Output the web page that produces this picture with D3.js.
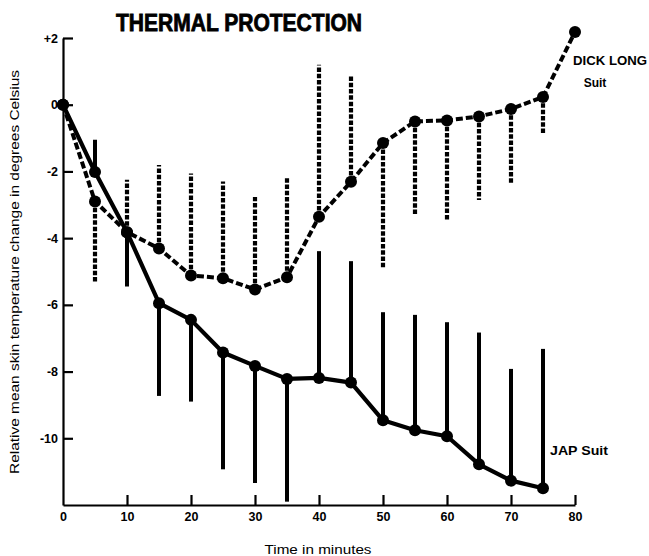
<!DOCTYPE html>
<html>
<head>
<meta charset="utf-8">
<script src="https://cdn.jsdelivr.net/npm/d3@7"></script>
<style>
  html, body { margin: 0; padding: 0; background: #fff; }
  svg { display: block; }
</style>
</head>
<body>
<svg id="chart" width="649" height="556"></svg>
<script>
// ---- data ----
const title = "THERMAL PROTECTION";
const xLabel = "Time in minutes";
const yLabel = "Relative mean skin temperature change in degrees Celsius";
const xTicks = [0, 10, 20, 30, 40, 50, 60, 70, 80];
const yTicks = [2, 0, -2, -4, -6, -8, -10];

const dickTimes = [0, 5, 10, 15, 20, 25, 30, 35, 40, 45, 50, 55, 60, 65, 70, 75, 80];
const dickMean  = [0, -2.9, -3.82, -4.31, -5.12, -5.2, -5.54, -5.17, -3.36, -2.31, -1.15, -0.5, -0.47, -0.35, -0.13, 0.23, 2.18];
const dickBar   = [null, -5.3, -2.25, -1.81, -2.06, -2.3, -2.77, -2.17, 1.2, 0.9, -4.9, -3.3, -3.46, -2.86, -2.4, -0.9, null];

const japTimes = [0, 5, 10, 15, 20, 25, 30, 35, 40, 45, 50, 55, 60, 65, 70, 75];
const japMean  = [0, -2.02, -3.82, -5.95, -6.45, -7.43, -7.83, -8.22, -8.19, -8.33, -9.46, -9.76, -9.94, -10.78, -11.27, -11.5];
const japBar   = [null, -1.05, -5.45, -8.73, -8.9, -10.93, -11.34, -11.9, -4.39, -4.69, -6.22, -6.3, -6.52, -6.83, -7.92, -7.32];

const dickLabel = ["DICK LONG", "Suit"];
const japLabel = "JAP Suit";

// ---- chart ----
const svg = d3.select("#chart");
const x = d3.scaleLinear().domain([0, 80]).range([63, 575]);
const y = d3.scaleLinear().domain([-12, 2]).range([505, 38]);
const font = "'Liberation Sans', Arial, Helvetica, sans-serif";

const fmtY = d => d > 0 ? "+" + d : (d < 0 ? "-" + Math.abs(d) : "0");

const yAxis = svg.append("g")
  .attr("transform", `translate(${x(0)},0)`)
  .call(d3.axisLeft(y).tickValues(yTicks).tickSizeInner(-10).tickSizeOuter(0).tickPadding(5).tickFormat(fmtY));
const xAxis = svg.append("g")
  .attr("transform", `translate(0,${y(-12)})`)
  .call(d3.axisBottom(x).tickValues(xTicks).tickSizeInner(-10).tickSizeOuter(0).tickPadding(7).tickFormat(d3.format("d")));

[yAxis, xAxis].forEach(g => {
  g.select(".domain").attr("stroke", "#000").attr("stroke-width", 2.2);
  g.selectAll(".tick line").attr("stroke", "#000").attr("stroke-width", 2.2);
  g.selectAll(".tick text").attr("fill", "#000")
    .style("font-family", font).style("font-size", "12.5px").style("font-weight", "bold");
});
xAxis.selectAll(".tick").filter(d => d === 0).select("line").remove();

// error bars
const dickIdx = d3.range(dickTimes.length).filter(i => dickBar[i] !== null);
const japIdx = d3.range(japTimes.length).filter(i => japBar[i] !== null);

svg.append("g").selectAll("line").data(japIdx).join("line")
  .attr("x1", i => x(japTimes[i])).attr("x2", i => x(japTimes[i]))
  .attr("y1", i => y(japMean[i])).attr("y2", i => y(japBar[i]))
  .attr("stroke", "#000").attr("stroke-width", 4);

svg.append("g").selectAll("line").data(dickIdx).join("line")
  .attr("x1", i => x(dickTimes[i])).attr("x2", i => x(dickTimes[i]))
  .attr("y1", i => y(dickMean[i])).attr("y2", i => y(dickBar[i]))
  .attr("stroke", "#000").attr("stroke-width", 4.2)
  .attr("stroke-dasharray", "4.5,1.8");

// lines
const lineDick = d3.line().x((d, i) => x(dickTimes[i])).y(d => y(d));
const lineJap = d3.line().x((d, i) => x(japTimes[i])).y(d => y(d));

svg.append("path").datum(japMean).attr("d", lineJap)
  .attr("fill", "none").attr("stroke", "#000").attr("stroke-width", 4.2)
  .attr("stroke-linejoin", "round");
svg.append("path").datum(dickMean).attr("d", lineDick)
  .attr("fill", "none").attr("stroke", "#000").attr("stroke-width", 4)
  .attr("stroke-dasharray", "7,3");

// points
svg.append("g").selectAll("circle").data(japMean).join("circle")
  .attr("cx", (d, i) => x(japTimes[i])).attr("cy", d => y(d)).attr("r", 6).attr("fill", "#000");
svg.append("g").selectAll("circle").data(dickMean).join("circle")
  .attr("cx", (d, i) => x(dickTimes[i])).attr("cy", d => y(d)).attr("r", 6).attr("fill", "#000");

// title
svg.append("text").attr("x", 116).attr("y", 31)
  .attr("textLength", 246).attr("lengthAdjust", "spacingAndGlyphs")
  .attr("stroke", "#000").attr("stroke-width", 0.8)
  .style("font-family", font).style("font-size", "23px").style("font-weight", "bold")
  .text(title);

// series labels
svg.append("text").attr("x", 573).attr("y", 65)
  .attr("textLength", 74).attr("lengthAdjust", "spacingAndGlyphs")
  .style("font-family", font).style("font-size", "12px").style("font-weight", "bold")
  .text(dickLabel[0]);
svg.append("text").attr("x", 595).attr("y", 87).attr("text-anchor", "middle")
  .style("font-family", font).style("font-size", "12px").style("font-weight", "bold")
  .text(dickLabel[1]);
svg.append("text").attr("x", 550).attr("y", 455)
  .attr("textLength", 58).attr("lengthAdjust", "spacingAndGlyphs")
  .style("font-family", font).style("font-size", "12px").style("font-weight", "bold")
  .text(japLabel);

// axis labels
svg.append("text").attr("x", 318).attr("y", 554).attr("text-anchor", "middle")
  .attr("textLength", 107).attr("lengthAdjust", "spacingAndGlyphs")
  .style("font-family", font).style("font-size", "12px")
  .text(xLabel);
svg.append("text")
  .attr("transform", "translate(19,272) rotate(-90)")
  .attr("text-anchor", "middle")
  .attr("textLength", 404).attr("lengthAdjust", "spacingAndGlyphs")
  .style("font-family", font).style("font-size", "13px")
  .text(yLabel);
</script>
</body>
</html>
